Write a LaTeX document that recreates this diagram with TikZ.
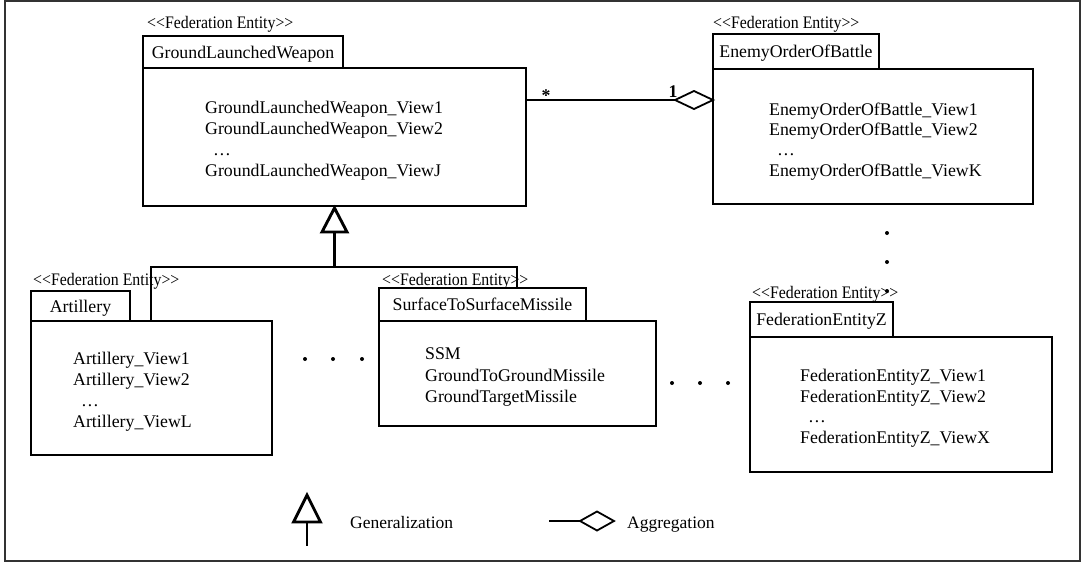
\documentclass[tikz,border=0pt]{standalone}
\usepackage{fontspec}
\setmainfont{Liberation Serif}[Ligatures=TeXOff]
\newfontfamily\stereofont{Liberation Serif}[FakeStretch=0.9, Ligatures=TeXOff]
\usetikzlibrary{calc}
\begin{document}
\begin{tikzpicture}[x=1pt,y=-1pt,
  box/.style={draw, line width=1.4pt, inner sep=0pt, outer sep=0pt},
  tabbox/.style={box, font=\fontsize{17.8}{20}\selectfont, text height=12pt, text depth=0pt, anchor=south west},
  bodybox/.style={box, anchor=north west},
  stereo/.style={font=\stereofont\fontsize{17.6}{20}\selectfont, anchor=base west, inner sep=0pt},
  item/.style={font=\fontsize{17.8}{20}\selectfont, anchor=base west, inner sep=0pt},
  legend/.style={font=\fontsize{17.5}{20}\selectfont, anchor=base west, inner sep=0pt},
  conn/.style={line width=2.9pt},
  diam/.style={line width=1.8pt, fill=white, line join=miter},
  mult/.style={font=\bfseries\fontsize{17.8}{20}\selectfont, anchor=base, inner sep=0pt}
]
\useasboundingbox (0,0) rectangle (1084,563);
\draw[line width=1.6pt, black!80] (5,1) rectangle (1080,561);

% GroundLaunchedWeapon
\node[stereo] (glwst) at (147,28) {<<Federation Entity>>};
\node[bodybox, minimum width=383pt, minimum height=138pt] (glw) at (143,68) {};
\node[tabbox, minimum width=200pt, minimum height=32pt] (glwtab) at (143,68) {GroundLaunchedWeapon};
\node[item] (glw1) at (205,113) {GroundLaunchedWeapon\_View1};
\node[item] (glw2) at (205,134) {GroundLaunchedWeapon\_View2};
\node[item] (glw3) at (213,155) {\ldots};
\node[item] (glw4) at (205,176) {GroundLaunchedWeapon\_ViewJ};

% EnemyOrderOfBattle
\node[stereo] (eobst) at (713,28) {<<Federation Entity>>};
\node[bodybox, minimum width=320pt, minimum height=135pt] (eob) at (713,69) {};
\node[tabbox, minimum width=166pt, minimum height=35pt] (eobtab) at (713,69) {EnemyOrderOfBattle};
\node[item] (eob1) at (769,115) {EnemyOrderOfBattle\_View1};
\node[item] (eob2) at (769,135) {EnemyOrderOfBattle\_View2};
\node[item] (eob3) at (777,155) {\ldots};
\node[item] (eob4) at (769,176) {EnemyOrderOfBattle\_ViewK};

% Artillery
\node[stereo] (artst) at (33,285) {<<Federation Entity>>};
\node[bodybox, minimum width=241pt, minimum height=134pt] (art) at (31,321) {};
\node[tabbox, minimum width=99pt, minimum height=30pt] (arttab) at (31,321) {Artillery};
\node[item] (art1) at (73,364) {Artillery\_View1};
\node[item] (art2) at (73,385) {Artillery\_View2};
\node[item] (art3) at (81,406) {\ldots};
\node[item] (art4) at (73,427) {Artillery\_ViewL};

% SurfaceToSurfaceMissile
\node[stereo] (ssmst) at (382,285) {<<Federation Entity>>};
\node[bodybox, minimum width=277pt, minimum height=105pt] (ssm) at (379,321) {};
\node[tabbox, minimum width=207pt, minimum height=33pt] (ssmtab) at (379,321) {SurfaceToSurfaceMissile};
\node[item] (ssm1) at (425,359) {SSM};
\node[item] (ssm2) at (425,381) {GroundToGroundMissile};
\node[item] (ssm3) at (425,402) {GroundTargetMissile};

% FederationEntityZ
\node[stereo] (fezst) at (752,298) {<<Federation Entity>>};
\node[bodybox, minimum width=302pt, minimum height=135pt] (fez) at (750,337) {};
\node[tabbox, minimum width=143pt, minimum height=35pt] (feztab) at (750,337) {FederationEntityZ};
\node[item] (fez1) at (800,381) {FederationEntityZ\_View1};
\node[item] (fez2) at (800,402) {FederationEntityZ\_View2};
\node[item] (fez3) at (808,422) {\ldots};
\node[item] (fez4) at (800,443) {FederationEntityZ\_ViewX};

% Aggregation
\coordinate (aggL) at ([yshift=37pt]glw.east);
\coordinate (aggR) at ([yshift=36.5pt]eob.west);
\draw[conn] (aggL) -- ($(aggR)+(-38,0)$);
\draw[diam] (aggR) -- ++(-19,-9) -- ++(-19,9) -- ++(19,9) -- cycle;
\node[mult] (mstar) at (546,101) {*};
\node[mult] (mone) at (673,97) {1};

% Generalization
\coordinate (gtip) at ($(glw.south)+(0,2)$);
\coordinate (gbase) at ($(glw.south)+(0,26)$);
\coordinate (junc) at ($(glw.south)+(0,61)$);
\draw[conn, fill=white, line join=miter] (gtip) -- ++(-12.5,24) -- ++(25,0) -- cycle;
\draw[conn] (gbase) -- (junc);
\draw[conn] ([xshift=120pt]art.north west) |- (junc) -| ([xshift=138pt]ssmtab.north west);

% ellipsis dots
\fill (305,359) circle (2pt);
\fill (333,359) circle (2pt);
\fill (362,359) circle (2pt);
\fill (672,383) circle (2pt);
\fill (700,383) circle (2pt);
\fill (728,383) circle (2pt);
\fill (887,233) circle (2pt);
\fill (887,262) circle (2pt);
\fill (887,291) circle (2pt);

% Legend
\coordinate (lgtip) at (307,495);
\coordinate (lgbase) at (307,522);
\coordinate (lgfoot) at (307,546);
\draw[conn, fill=white, line join=miter] (lgtip) -- ++(-13.5,27) -- ++(27,0) -- cycle;
\draw[conn] (lgbase) -- (lgfoot);
\node[legend] (lgen) at (350,528) {Generalization};
\coordinate (lastart) at (549,521);
\coordinate (latip) at (614,521);
\draw[conn] (lastart) -- ($(latip)+(-34,0)$);
\draw[diam] (latip) -- ++(-17,-9.5) -- ++(-17,9.5) -- ++(17,9.5) -- cycle;
\node[legend] (lagg) at (627,528) {Aggregation};
\end{tikzpicture}
\end{document}
